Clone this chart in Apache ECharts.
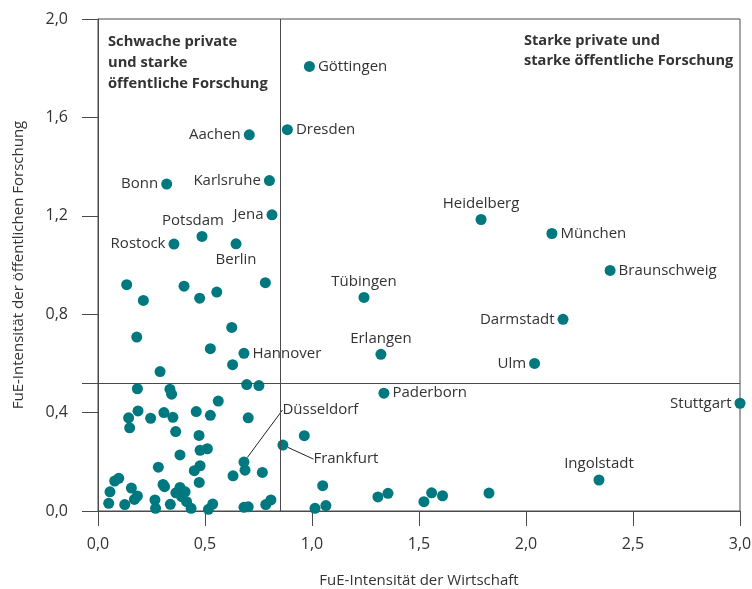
<!DOCTYPE html>
<html>
<head>
<meta charset="utf-8">
<script src="https://cdn.jsdelivr.net/npm/echarts@6/dist/echarts.min.js"></script>
<style>html,body{margin:0;padding:0;background:#fff}#c{width:752px;height:589px}</style>
</head>
<body>
<div id="c"></div>
<script>
// Labelled regions
const cityNames = ['Göttingen','Dresden','Aachen','Karlsruhe','Bonn','Jena','Potsdam','Rostock','Berlin','Heidelberg','München','Braunschweig','Tübingen','Darmstadt','Erlangen','Ulm','Hannover','Paderborn','Stuttgart','Ingolstadt','Düsseldorf','Frankfurt'];
const cityX = [0.988,0.885,0.707,0.801,0.321,0.813,0.486,0.355,0.645,1.790,2.121,2.393,1.243,2.173,1.322,2.040,0.682,1.336,3.000,2.341,0.682,0.864];
const cityY = [1.807,1.550,1.529,1.343,1.329,1.204,1.116,1.085,1.086,1.185,1.128,0.978,0.868,0.779,0.637,0.600,0.641,0.479,0.438,0.126,0.199,0.268];

// Unlabelled regions
const otherX = [0.134,0.212,0.402,0.475,0.555,0.782,0.181,0.625,0.525,0.629,0.290,
  0.695,0.752,0.184,0.336,0.344,0.562,0.187,0.143,0.148,0.246,0.308,0.350,0.459,0.525,0.702,0.363,0.472,0.477,0.511,0.383,0.687,0.768,0.631,0.282,0.477,0.450,0.473,0.097,0.078,0.056,0.050,0.125,0.156,0.184,0.170,0.304,0.311,0.266,0.269,0.338,0.383,0.364,0.407,0.391,0.414,0.435,0.516,0.536,0.682,0.702,0.784,0.808,
  0.964,1.050,1.014,1.065,1.308,1.355,1.523,1.559,1.610,1.827];
const otherY = [0.920,0.856,0.914,0.865,0.890,0.928,0.707,0.746,0.660,0.595,0.567,
  0.514,0.510,0.497,0.495,0.475,0.447,0.407,0.379,0.338,0.377,0.400,0.381,0.404,0.389,0.379,0.323,0.307,0.247,0.253,0.228,0.166,0.157,0.143,0.178,0.184,0.164,0.116,0.133,0.122,0.078,0.031,0.026,0.093,0.061,0.047,0.108,0.099,0.045,0.011,0.027,0.096,0.074,0.078,0.058,0.038,0.011,0.007,0.028,0.015,0.017,0.026,0.045,
  0.306,0.103,0.011,0.022,0.057,0.072,0.038,0.074,0.062,0.073];

// Threshold lines (quadrant borders)
const thresholdX = 0.855;
const thresholdY = 0.52;

const quadrantTitles = ['Schwache private\nund starke\nöffentliche Forschung', 'Starke private und\nstarke öffentliche Forschung'];
const xAxisName = 'FuE-Intensität der Wirtschaft';
const yAxisName = 'FuE-Intensität der öffentlichen Forschung';

// label placement (style)
const placement = {
  'Göttingen':{position:'right'}, 'Dresden':{position:'right'}, 'Aachen':{position:'left'},
  'Karlsruhe':{position:'left'}, 'Bonn':{position:'left'}, 'Jena':{position:'left'},
  'Potsdam':{position:'top', move:[-9,0]}, 'Rostock':{position:'left'}, 'Berlin':{position:'bottom'},
  'Heidelberg':{position:'top'}, 'München':{position:'right'}, 'Braunschweig':{position:'right'},
  'Tübingen':{position:'top'}, 'Darmstadt':{position:'left'}, 'Erlangen':{position:'top'},
  'Ulm':{position:'left'}, 'Hannover':{position:'right'}, 'Paderborn':{position:'right'},
  'Stuttgart':{position:'left'}, 'Ingolstadt':{position:'top'},
  'Düsseldorf':{position:'right', move:[30,-52], line:true}, 'Frankfurt':{position:'right', move:[22,14], line:true}
};

const FONT = '"Open Sans", sans-serif';
const TXT = '#333333';
const LINE = '#4a4a4a';
const DOT = '#00787f';

const otherData = otherX.map((x,i)=>[x, otherY[i]]);
const cityData = cityNames.map((n,i)=>{
  const p = placement[n];
  const item = {name:n, value:[cityX[i], cityY[i]], label:{show:true, position:p.position, distance:3}};
  if (p.line) item.labelLine = {show:true};
  return item;
});

const fmt = v => v.toFixed(1).replace('.', ',');

const chart = echarts.init(document.getElementById('c'), null, {renderer:'canvas'});
chart.setOption({
  animation:false,
  textStyle:{fontFamily:FONT},
  title:[
    {text:quadrantTitles[0], left:103, top:26, textStyle:{fontFamily:FONT, fontWeight:'bold', fontSize:14.7, lineHeight:21, color:TXT}},
    {text:quadrantTitles[1], left:519, top:26, textStyle:{fontFamily:FONT, fontWeight:'bold', fontSize:14.6, lineHeight:20, color:TXT}}
  ],
  grid:{left:98, right:12, top:19, bottom:78, show:true, borderColor:LINE, borderWidth:1, containLabel:false, outerBoundsMode:'none'},
  xAxis:{
    type:'value', min:0, max:3, interval:0.5,
    name:xAxisName, nameLocation:'middle', nameGap:62,
    nameTextStyle:{fontFamily:FONT, fontSize:15, color:TXT},
    axisLine:{show:true, lineStyle:{color:LINE, width:1}},
    axisTick:{show:true, inside:false, length:15, lineStyle:{color:LINE, width:1}},
    axisLabel:{formatter:fmt, fontFamily:FONT, fontSize:16, color:TXT, margin:25},
    splitLine:{show:false}
  },
  yAxis:{
    type:'value', min:0, max:2, interval:0.4,
    name:yAxisName, nameLocation:'middle', nameGap:72,
    nameTextStyle:{fontFamily:FONT, fontSize:15, color:TXT},
    axisLine:{show:true, lineStyle:{color:LINE, width:1}},
    axisTick:{show:true, inside:false, length:16, lineStyle:{color:LINE, width:1}, customValues:[0,0.4,0.8,1.2,1.6,2.0,thresholdY]},
    axisLabel:{formatter:fmt, fontFamily:FONT, fontSize:16, color:TXT, margin:30},
    splitLine:{show:false}
  },
  series:[
    {
      type:'scatter', symbolSize:11, itemStyle:{color:DOT, opacity:1},
      data:otherData, silent:true, z:3,
      markLine:{
        silent:true, symbol:['none','none'], label:{show:false},
        lineStyle:{color:LINE, width:1, type:'solid'},
        data:[{xAxis:thresholdX},{yAxis:thresholdY}]
      }
    },
    {
      type:'scatter', symbolSize:11, itemStyle:{color:DOT, opacity:1},
      data:cityData, silent:true, z:4,
      label:{show:true, fontFamily:FONT, fontSize:15, color:TXT, formatter:'{b}'},
      labelLine:{show:false, lineStyle:{color:'#222', width:1}},
      labelLayout:function(params){
        const n = cityNames[params.dataIndex];
        const p = placement[n];
        if (p && p.move) return {dx:p.move[0], dy:p.move[1]};
        return {};
      }
    }
  ]
});
</script>
</body>
</html>
